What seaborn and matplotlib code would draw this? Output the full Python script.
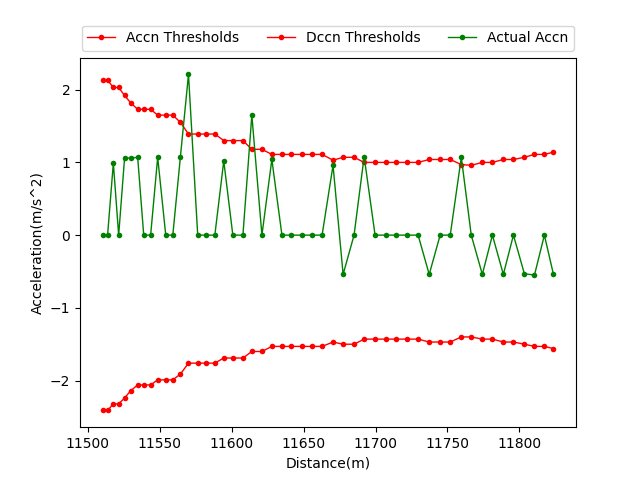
import matplotlib
matplotlib.use("Agg")
import matplotlib.pyplot as plt
import seaborn as sns

distance = [11510.4, 11513.9, 11517.9, 11521.6, 11525.7, 11529.9, 11534.8, 11539.0, 11543.8, 11548.7,
            11554.3, 11559.2, 11564.5, 11570.1, 11576.5, 11582.1, 11588.4, 11594.6, 11600.9, 11607.9,
            11614.1, 11621.1, 11628.0, 11635.0, 11641.3, 11648.9, 11655.9, 11662.9, 11670.5, 11677.5,
            11685.1, 11692.1, 11699.7, 11707.4, 11714.3, 11722.0, 11729.6, 11737.3, 11744.9, 11751.9,
            11759.6, 11766.5, 11774.2, 11781.2, 11788.8, 11795.8, 11803.4, 11810.4, 11817.3, 11823.6]

accn_thresh = [2.13, 2.13, 2.03, 2.03, 1.92, 1.82, 1.73, 1.73, 1.73, 1.65,
               1.65, 1.65, 1.55, 1.39, 1.39, 1.39, 1.39, 1.30, 1.30, 1.30,
               1.18, 1.18, 1.11, 1.11, 1.11, 1.11, 1.11, 1.11, 1.03, 1.07,
               1.07, 1.00, 1.00, 1.00, 1.00, 1.00, 1.00, 1.04, 1.04, 1.04,
               0.97, 0.96, 1.00, 1.00, 1.04, 1.04, 1.07, 1.11, 1.11, 1.14]

dccn_thresh = [-2.41, -2.41, -2.32, -2.32, -2.24, -2.14, -2.06, -2.06, -2.06, -1.99,
               -1.99, -1.99, -1.91, -1.76, -1.76, -1.76, -1.76, -1.69, -1.69, -1.69,
               -1.60, -1.60, -1.53, -1.53, -1.53, -1.53, -1.53, -1.53, -1.47, -1.50,
               -1.50, -1.43, -1.43, -1.43, -1.43, -1.43, -1.43, -1.47, -1.47, -1.47,
               -1.40, -1.40, -1.43, -1.43, -1.47, -1.47, -1.50, -1.53, -1.53, -1.56]

actual_accn = [0, 0, 0.99, 0, 1.06, 1.06, 1.07, 0, 0, 1.07,
               0, 0, 1.08, 2.21, 0, 0, 0, 1.02, 0, 0,
               1.65, 0, 1.04, 0, 0, 0, 0, 0, 0.96, -0.54,
               0, 1.08, 0, 0, 0, 0, 0, -0.54, 0, 0,
               1.07, 0, -0.54, 0, -0.54, 0, -0.53, -0.55, 0, -0.54]

fig, ax = plt.subplots(figsize=(6.4, 4.8), dpi=100)

style = dict(marker="o", markersize=4, markeredgewidth=0, linewidth=1, ax=ax)
sns.lineplot(x=distance, y=accn_thresh, color="red", label="Accn Thresholds", **style)
sns.lineplot(x=distance, y=dccn_thresh, color="red", label="Dccn Thresholds", **style)
sns.lineplot(x=distance, y=actual_accn, color="green", label="Actual Accn", **style)

ax.set_xlabel("Distance(m)")
ax.set_ylabel("Acceleration(m/s^2)")
ax.legend(loc="lower center", bbox_to_anchor=(0.5, 1.0), ncol=3)

fig.savefig("out.png", dpi=100)
